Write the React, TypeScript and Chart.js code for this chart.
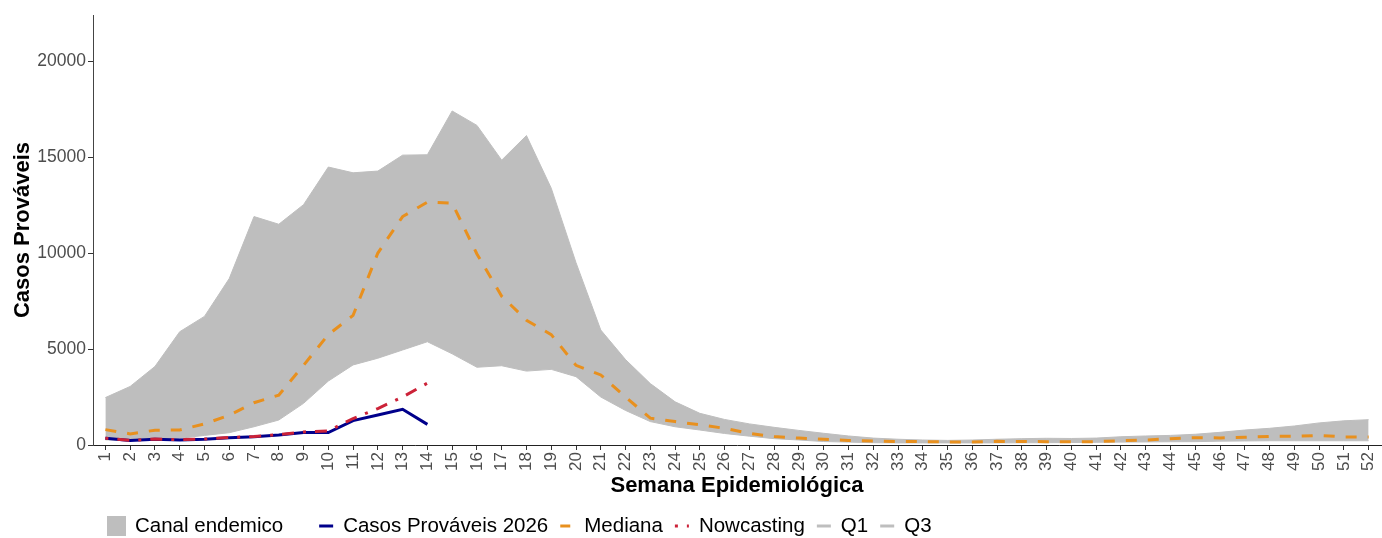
import React, { useEffect, useRef } from 'react';
import { Chart, registerables } from 'chart.js';

Chart.register(...registerables);

const FONT = "'Liberation Sans', Arial, Helvetica, sans-serif";

const weeks: string[] = [
  '1', '2', '3', '4', '5', '6', '7', '8', '9', '10', '11', '12', '13',
  '14', '15', '16', '17', '18', '19', '20', '21', '22', '23', '24', '25', '26',
  '27', '28', '29', '30', '31', '32', '33', '34', '35', '36', '37', '38', '39',
  '40', '41', '42', '43', '44', '45', '46', '47', '48', '49', '50', '51', '52',
];

const q3: number[] = [
  2470, 3050, 4090, 5900, 6700, 8670, 11900, 11500, 12520, 14480, 14180, 14270, 15100,
  15120, 17400, 16650, 14840, 16120, 13380, 9500, 5990, 4450, 3200, 2250, 1650, 1330,
  1100, 920, 760, 610, 470, 360, 300, 260, 240, 260, 300, 330, 350,
  340, 360, 430, 470, 500, 560, 660, 780, 870, 990, 1150, 1260, 1320,
];

const mediana: number[] = [
  800, 580, 770, 780, 1100, 1550, 2200, 2600, 4150, 5750, 6750, 10000, 11900,
  12650, 12600, 9950, 7750, 6500, 5750, 4150, 3650, 2500, 1400, 1220, 1050, 870,
  600, 440, 360, 300, 240, 210, 180, 175, 160, 160, 190, 180, 175,
  175, 175, 225, 260, 330, 380, 370, 400, 450, 450, 500, 420, 420,
];

const q1: number[] = [
  270, 230, 260, 350, 500, 640, 950, 1300, 2170, 3330, 4170, 4520, 4950,
  5380, 4750, 4050, 4130, 3850, 3940, 3560, 2500, 1800, 1220, 950, 780, 600,
  460, 330, 260, 180, 150, 120, 110, 110, 110, 110, 110, 115, 120,
  130, 140, 150, 160, 170, 175, 200, 210, 220, 220, 220, 220, 220,
];

const casos2026: number[] = [
  350, 230, 300, 260, 300, 380, 430, 520, 650, 650, 1270, 1560, 1860, 1075,
];

const nowcasting: number[] = [
  350, 240, 310, 280, 310, 390, 440, 540, 680, 730, 1380, 1900, 2500, 3220,
];

const yTicks: number[] = [0, 5000, 10000, 15000, 20000];

const legendLabels: string[] = [
  'Canal endemico', 'Casos Prováveis 2026', 'Mediana', 'Nowcasting', 'Q1', 'Q3',
];

const GRAY = '#bebebe';
const NAVY = '#00008b';
const ORANGE = '#e8901e';
const RED = '#cc2238';

const DASH_MEDIANA = [11, 11];
const DASH_NOW = [3, 9, 12, 9];

const legendKeys = [
  { kind: 'box', color: GRAY, dash: [] as number[] },
  { kind: 'line', color: NAVY, dash: [] as number[] },
  { kind: 'line', color: ORANGE, dash: [10, 10] },
  { kind: 'line', color: RED, dash: [3, 9, 12, 9] },
  { kind: 'line', color: GRAY, dash: [] as number[] },
  { kind: 'line', color: GRAY, dash: [] as number[] },
];

const legendPlugin = {
  id: 'bottomLegend',
  afterDraw(chart: any) {
    const ctx = chart.ctx as CanvasRenderingContext2D;
    const yc = 526;
    let x = 107;
    ctx.save();
    ctx.font = `20.5px ${FONT}`;
    ctx.textBaseline = 'middle';
    ctx.textAlign = 'left';
    legendLabels.forEach((label, i) => {
      const key = legendKeys[i];
      if (key.kind === 'box') {
        ctx.fillStyle = key.color;
        ctx.fillRect(x, yc - 10, 19, 20);
        x += 19;
      } else {
        ctx.strokeStyle = key.color;
        ctx.lineWidth = 3;
        ctx.lineCap = 'butt';
        ctx.setLineDash(key.dash);
        ctx.beginPath();
        ctx.moveTo(x + 2, yc);
        ctx.lineTo(x + 16, yc);
        ctx.stroke();
        ctx.setLineDash([]);
        x += 17;
      }
      x += 9;
      ctx.fillStyle = '#000';
      ctx.fillText(label, x, yc);
      x += ctx.measureText(label).width + (i === 0 ? 34 : 10);
    });
    ctx.restore();
  },
};

export default function App() {
  const canvasRef = useRef<HTMLCanvasElement | null>(null);

  useEffect(() => {
    if (!canvasRef.current) return;
    const chart = new Chart(canvasRef.current, {
      type: 'line',
      data: {
        labels: weeks,
        datasets: [
          {
            label: 'Nowcasting',
            data: nowcasting,
            borderColor: RED,
            borderWidth: 3,
            borderDash: DASH_NOW,
            pointRadius: 0,
            fill: false,
            tension: 0,
          },
          {
            label: 'Casos Prováveis 2026',
            data: casos2026,
            borderColor: NAVY,
            borderWidth: 3,
            pointRadius: 0,
            fill: false,
            tension: 0,
          },
          {
            label: 'Mediana',
            data: mediana,
            borderColor: ORANGE,
            borderWidth: 3,
            borderDash: DASH_MEDIANA,
            pointRadius: 0,
            fill: false,
            tension: 0,
          },
          {
            label: 'Q3',
            data: q3,
            borderColor: GRAY,
            borderWidth: 1,
            backgroundColor: GRAY,
            pointRadius: 0,
            fill: '+1',
            tension: 0,
          },
          {
            label: 'Q1',
            data: q1,
            borderColor: GRAY,
            borderWidth: 1,
            pointRadius: 0,
            fill: false,
            tension: 0,
          },
        ],
      },
      options: {
        animation: false,
        responsive: true,
        maintainAspectRatio: false,
        layout: { padding: { top: 15, right: 1, left: 0, bottom: 0 } },
        plugins: {
          legend: { display: false },
          tooltip: { enabled: false },
          filler: { drawTime: 'beforeDatasetsDraw' },
        },
        scales: {
          x: {
            type: 'category',
            offset: true,
            grid: {
              display: true,
              drawOnChartArea: false,
              drawTicks: true,
              tickLength: 5,
              color: '#333',
              offset: false,
            },
            border: { display: true, color: '#222', width: 1 },
            ticks: {
              autoSkip: false,
              maxRotation: 90,
              minRotation: 90,
              padding: 2,
              color: '#4d4d4d',
              font: { family: FONT, size: 17 },
            },
            title: {
              display: true,
              text: 'Semana Epidemiológica',
              color: '#000',
              font: { family: FONT, size: 22, weight: 'bold' },
              padding: { top: 0, bottom: 39 },
            },
            afterFit: (s: any) => {
              s.height = 93;
              s.paddingLeft = 0;
              s.paddingRight = 0;
            },
          },
          y: {
            min: 0,
            max: 22400,
            afterBuildTicks: (s: any) => {
              s.ticks = yTicks.map((v) => ({ value: v }));
            },
            grid: {
              display: true,
              drawOnChartArea: false,
              drawTicks: true,
              tickLength: 5,
              color: '#333',
            },
            border: { display: true, color: '#444', width: 1 },
            ticks: {
              padding: 2,
              color: '#4d4d4d',
              font: { family: FONT, size: 17.5 },
              callback: (v: any) => String(v),
            },
            title: {
              display: true,
              text: 'Casos Prováveis',
              color: '#000',
              font: { family: FONT, size: 22, weight: 'bold' },
              padding: { top: 10, bottom: 0 },
            },
            afterFit: (s: any) => {
              s.width = 93;
              s.paddingTop = 0;
              s.paddingBottom = 0;
            },
          },
        },
      },
      plugins: [legendPlugin],
    });
    return () => chart.destroy();
  }, []);

  return (
    <div style={{ position: 'fixed', left: 0, top: 0, width: 1382, height: 538, background: '#fff' }}>
      <canvas ref={canvasRef} />
    </div>
  );
}
